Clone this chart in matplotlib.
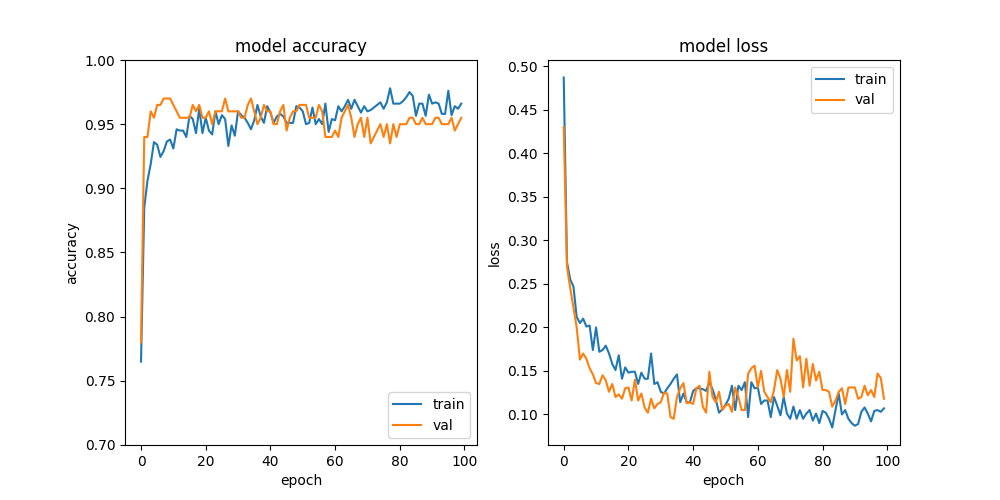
import matplotlib
matplotlib.use("Agg")
import matplotlib.pyplot as plt
import numpy as np

epochs = list(range(100))

train_acc = [0.765, 0.885, 0.906, 0.919, 0.936, 0.934, 0.9245, 0.929, 0.9365, 0.938,
             0.931, 0.946, 0.945, 0.945, 0.940, 0.9565, 0.954, 0.943, 0.962, 0.943,
             0.955, 0.945, 0.942, 0.960, 0.950, 0.957, 0.954, 0.933, 0.949, 0.941,
             0.960, 0.957, 0.955, 0.951, 0.946, 0.953, 0.965, 0.956, 0.951, 0.964,
             0.959, 0.951, 0.956, 0.958, 0.956, 0.951, 0.951, 0.951, 0.964, 0.963,
             0.960, 0.950, 0.951, 0.963, 0.950, 0.954, 0.950, 0.966, 0.944, 0.954,
             0.953, 0.964, 0.960, 0.964, 0.969, 0.962, 0.969, 0.964, 0.959, 0.964,
             0.960, 0.961, 0.963, 0.965, 0.967, 0.962, 0.967, 0.978, 0.966, 0.966,
             0.966, 0.968, 0.971, 0.975, 0.972, 0.9565, 0.966, 0.966, 0.9565, 0.973,
             0.966, 0.967, 0.966, 0.958, 0.958, 0.976, 0.957, 0.964, 0.962, 0.966]

val_acc = [0.78, 0.94, 0.94, 0.96, 0.955, 0.965, 0.965, 0.97, 0.97, 0.97,
           0.965, 0.96, 0.955, 0.955, 0.955, 0.955, 0.965, 0.96, 0.965, 0.955,
           0.955, 0.96, 0.95, 0.96, 0.96, 0.96, 0.97, 0.96, 0.96, 0.96,
           0.96, 0.955, 0.955, 0.965, 0.97, 0.96, 0.95, 0.955, 0.965, 0.96,
           0.96, 0.95, 0.95, 0.96, 0.965, 0.945, 0.955, 0.96, 0.96, 0.965,
           0.965, 0.965, 0.955, 0.955, 0.955, 0.965, 0.96, 0.94, 0.94, 0.94,
           0.945, 0.94, 0.955, 0.96, 0.965, 0.955, 0.94, 0.95, 0.955, 0.94,
           0.955, 0.935, 0.94, 0.945, 0.95, 0.94, 0.95, 0.935, 0.95, 0.94,
           0.95, 0.95, 0.95, 0.955, 0.955, 0.95, 0.95, 0.955, 0.95, 0.95,
           0.95, 0.955, 0.955, 0.95, 0.95, 0.95, 0.955, 0.945, 0.95, 0.955]

train_loss = [0.487, 0.275, 0.255, 0.247, 0.212, 0.205, 0.210, 0.201, 0.202, 0.174,
              0.200, 0.172, 0.174, 0.179, 0.170, 0.158, 0.151, 0.168, 0.141, 0.154,
              0.148, 0.149, 0.149, 0.135, 0.148, 0.141, 0.141, 0.170, 0.135, 0.137,
              0.126, 0.124, 0.130, 0.135, 0.141, 0.146, 0.114, 0.124, 0.114, 0.114,
              0.127, 0.130, 0.130, 0.129, 0.127, 0.137, 0.129, 0.117, 0.102, 0.106,
              0.111, 0.118, 0.133, 0.105, 0.133, 0.128, 0.137, 0.097, 0.137, 0.130,
              0.131, 0.112, 0.116, 0.116, 0.097, 0.120, 0.110, 0.099, 0.120, 0.101,
              0.095, 0.109, 0.095, 0.105, 0.095, 0.101, 0.105, 0.093, 0.101, 0.090,
              0.104, 0.102, 0.095, 0.085, 0.105, 0.124, 0.100, 0.105, 0.095, 0.090,
              0.087, 0.089, 0.103, 0.108, 0.101, 0.092, 0.104, 0.105, 0.103, 0.107]

val_loss = [0.430, 0.27, 0.245, 0.223, 0.200, 0.163, 0.170, 0.164, 0.153, 0.146,
            0.136, 0.135, 0.145, 0.139, 0.126, 0.135, 0.120, 0.123, 0.118, 0.130,
            0.131, 0.116, 0.140, 0.116, 0.124, 0.108, 0.102, 0.118, 0.107, 0.112,
            0.114, 0.125, 0.124, 0.097, 0.095, 0.120, 0.130, 0.136, 0.113, 0.114,
            0.112, 0.130, 0.133, 0.109, 0.102, 0.149, 0.120, 0.114, 0.126, 0.105,
            0.110, 0.112, 0.103, 0.131, 0.120, 0.105, 0.105, 0.147, 0.153, 0.156,
            0.131, 0.150, 0.126, 0.120, 0.114, 0.128, 0.151, 0.141, 0.120, 0.151,
            0.126, 0.187, 0.162, 0.167, 0.131, 0.164, 0.133, 0.158, 0.139, 0.149,
            0.128, 0.128, 0.126, 0.109, 0.116, 0.126, 0.130, 0.112, 0.131, 0.131,
            0.131, 0.118, 0.120, 0.133, 0.122, 0.128, 0.120, 0.147, 0.142, 0.118]

legend_labels = ["train", "val"]

fig = plt.figure(figsize=(10, 5), dpi=100)

ax1 = fig.add_subplot(1, 2, 1)
ax1.plot(epochs, train_acc)
ax1.plot(epochs, val_acc)
ax1.set_title("model accuracy")
ax1.set_ylabel("accuracy")
ax1.set_xlabel("epoch")
ax1.set_ylim(0.7, 1.0)
ax1.legend(legend_labels, loc="lower right")

ax2 = fig.add_subplot(1, 2, 2)
ax2.plot(epochs, train_loss)
ax2.plot(epochs, val_loss)
ax2.set_title("model loss")
ax2.set_ylabel("loss")
ax2.set_xlabel("epoch")
ax2.legend(legend_labels, loc="upper right")

fig.savefig("out.png", dpi=100)
